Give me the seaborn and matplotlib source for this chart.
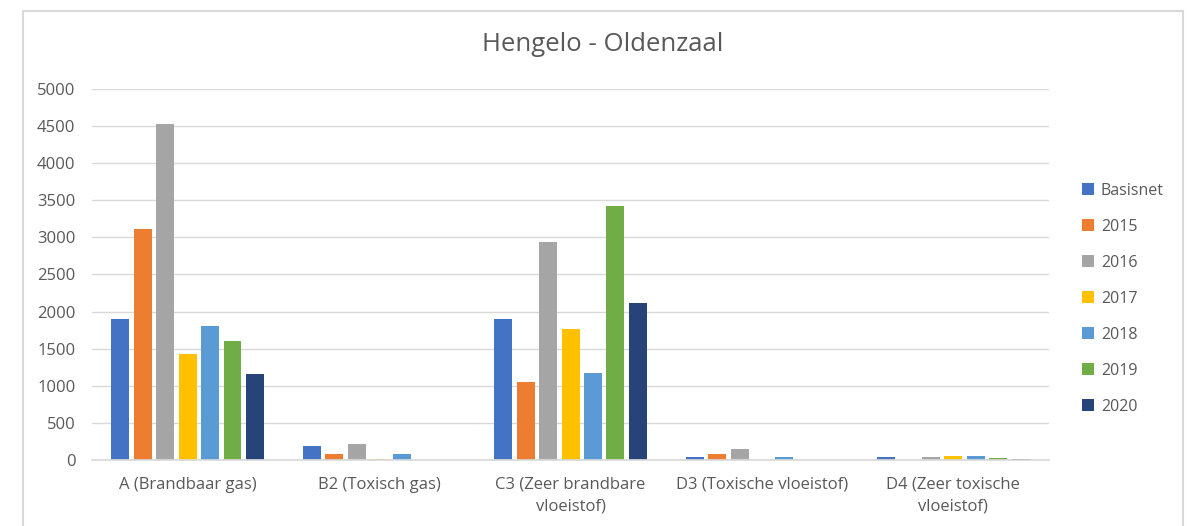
import pandas as pd
import seaborn as sns
import matplotlib.pyplot as plt
from matplotlib.patches import Rectangle

# categories and series
categories = ["A (Brandbaar gas)", "B2 (Toxisch gas)", "C3 (Zeer brandbare\nvloeistof)",
              "D3 (Toxische vloeistof)", "D4 (Zeer toxische\nvloeistof)"]
series = ["Basisnet", "2015", "2016", "2017", "2018", "2019", "2020"]

basisnet = [1900, 195, 1900, 40, 40]
y2015 = [3110, 85, 1050, 80, 5]
y2016 = [4530, 210, 2940, 150, 45]
y2017 = [1430, 15, 1760, 0, 60]
y2018 = [1800, 85, 1170, 35, 55]
y2019 = [1610, 0, 3420, 0, 25]
y2020 = [1160, 0, 2120, 0, 20]

colors = ["#4472C4", "#ED7D31", "#A5A5A5", "#FFC000", "#5B9BD5", "#70AD47", "#264478"]

rows = []
for name, vals in zip(series, [basisnet, y2015, y2016, y2017, y2018, y2019, y2020]):
    for cat, v in zip(categories, vals):
        rows.append({"Categorie": cat, "Serie": name, "Waarde": v})
df = pd.DataFrame(rows)

sns.set_theme(style="white")
plt.rcParams['font.family'] = ['Open Sans', 'DejaVu Sans']
text_col = "#595959"

fig = plt.figure(figsize=(11.99, 5.26), dpi=100)
ax = fig.add_axes([0.0767, 0.1255, 0.875 - 0.0767, 0.8308 - 0.1255])

sns.barplot(data=df, x="Categorie", y="Waarde", hue="Serie", order=categories,
            hue_order=series, palette=colors, saturation=1, width=0.82, gap=0.2,
            linewidth=0, ax=ax)

ax.set_ylim(0, 5000)
ax.set_yticks(range(0, 5001, 500))
ax.yaxis.grid(True, color="#d9d9d9", linewidth=1)
ax.set_axisbelow(True)
for s in ["left", "right", "top"]:
    ax.spines[s].set_visible(False)
ax.spines["bottom"].set_color("#d9d9d9")
ax.tick_params(axis="both", length=0, colors=text_col, labelsize=12)
ax.tick_params(axis="y", pad=12)
ax.tick_params(axis="x", pad=12)
ax.set_xlabel("")
ax.set_ylabel("")
for lbl in ax.get_xticklabels():
    lbl.set_linespacing(1.5)

fig.text(0.503, 0.915, "Hengelo - Oldenzaal", ha="center", va="center",
         fontsize=18.5, color=text_col)

handles, labels = ax.get_legend_handles_labels()
ax.legend(handles, labels, loc="center left", bbox_to_anchor=(1.019, 0.435),
          frameon=False, fontsize=11.5, labelcolor=text_col,
          handlelength=0.8, handleheight=0.8, handletextpad=0.4,
          labelspacing=1.25)

# chart border
fig.patches.append(Rectangle((23 / 1199, -0.05), (1183 - 23) / 1199, 1.029,
                             transform=fig.transFigure, fill=False,
                             edgecolor="#d9d9d9", linewidth=1.5))

fig.savefig("out.png", dpi=100, facecolor="white")
